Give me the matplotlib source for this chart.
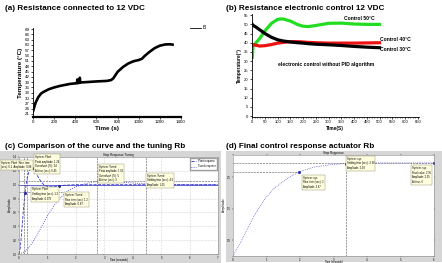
import numpy as np
import matplotlib
matplotlib.use('Agg')
import matplotlib.pyplot as plt

plt.rcParams['font.family'] = ['Liberation Sans', 'DejaVu Sans']

W, H = 442.0, 263.0

# (a) resistance at 12 VDC
a_t = [0, 10, 25, 50, 75, 100, 150, 200, 250, 300, 350, 400, 416, 419, 422, 440, 443, 446, 500,
       600, 700, 740, 760, 780, 800, 850, 900, 950, 1000, 1030, 1060, 1100, 1150, 1200, 1250, 1300, 1320]
a_T = [22.5, 24.5, 27.5, 30.5, 32.5, 33.5, 35.0, 36.0, 36.8, 37.4, 38.0, 38.3, 38.4, 40.5, 38.5, 38.6,
       41.5, 38.8, 39.0, 39.4, 39.7, 40.2, 41.2, 43.0, 44.8, 47.5, 49.5, 50.8, 51.5, 52.2, 54.0, 56.0,
       58.2, 59.6, 60.3, 60.4, 60.2]
a_yticks = list(range(21, 70, 3))
a_xticks = list(range(0, 1401, 200))

# (b) electronic control without PID
b_t = [0, 3, 15, 30, 50, 75, 100, 120, 150, 180, 200, 220, 250, 300, 350, 400, 450, 500]
b_green = [32.0, 38.5, 40.0, 42.5, 46.5, 50.5, 52.8, 53.0, 51.8, 49.8, 49.0, 48.8, 49.4, 50.6, 50.7,
           50.2, 50.0, 50.0]
b_black = [50.0, 49.5, 48.5, 47.0, 45.0, 43.0, 41.6, 41.0, 40.4, 40.0, 39.8, 39.5, 39.2, 38.9, 38.5,
           38.0, 37.6, 37.3]
b_red = [38.5, 39.0, 38.6, 38.2, 38.4, 39.0, 39.8, 40.2, 40.6, 40.6, 40.4, 40.2, 40.0, 39.8, 39.8,
         39.8, 39.9, 40.0]

# (c) step response: plant curve vs tuned
c_t1 = [0, 0.05, 0.1, 0.15, 0.2, 0.25, 0.3, 0.35, 0.4, 0.45, 0.5, 0.6, 0.7, 0.8, 0.9, 1.0, 1.1,
        1.2, 1.4, 1.6, 2.0, 3.0, 5.0, 7.0]
c_y1 = [0, 0.1, 0.35, 0.6, 0.85, 1.0, 1.12, 1.19, 1.23, 1.24, 1.23, 1.17, 1.09, 1.03, 0.99, 0.975,
        0.97, 0.972, 0.982, 0.993, 1.0, 1.0, 1.0, 1.0]
c_t2 = [0, 0.2, 0.4, 0.6, 0.8, 1.0, 1.2, 1.4, 1.6, 1.8, 2.0, 2.3, 2.6, 3.0, 3.4, 3.8, 4.2, 4.6,
        5.0, 6.0, 7.0]
c_y2 = [0, 0.03, 0.12, 0.25, 0.4, 0.55, 0.68, 0.79, 0.87, 0.93, 0.97, 1.01, 1.04, 1.05, 1.045,
        1.03, 1.02, 1.01, 1.005, 1.0, 1.0]

# (d) final actuator response
d_t = [0, 0.23, 0.43, 0.63, 0.93, 1.23, 1.63, 1.98, 2.43, 2.97, 3.38, 3.62, 4.22, 5.0, 6.0]
d_y = [0, 0.44, 0.86, 1.27, 1.78, 2.15, 2.46, 2.67, 2.82, 2.90, 2.93, 2.94, 2.95, 2.95, 2.95]


def box(x0, y0, x1, y1):
    # pixel box (top-left origin) -> figure fraction rect
    return [x0 / W, 1 - y1 / H, (x1 - x0) / W, (y1 - y0) / H]


fig = plt.figure(figsize=(4.42, 2.63), dpi=100)

tkw = dict(fontsize=5.9, fontweight='bold', ha='left', va='center')
fig.text(5 / W, 1 - 9 / H, '(a) Resistance connected to 12 VDC', **tkw)
fig.text(226 / W, 1 - 8 / H, '(b) Resistance electronic control 12 VDC', **tkw)
fig.text(5 / W, 1 - 146 / H, '(c) Comparison of the curve and the tuning Rb', **tkw)
fig.text(226 / W, 1 - 146 / H, '(d) Final control response actuator Rb', **tkw)

# ---- (a)
ax = fig.add_axes(box(33, 28, 181, 117))
ax.plot(a_t, a_T, color='black', lw=1.9, label='B')
ax.set_xlim(0, 1400)
ax.set_ylim(19.3, 69.6)
ax.set_xticks(a_xticks)
ax.set_yticks(a_yticks)
ax.tick_params(labelsize=3.2, length=1.5, width=0.5, pad=1)
for s in ['top', 'right']:
    ax.spines[s].set_visible(False)
ax.spines['left'].set_linewidth(0.6)
ax.spines['bottom'].set_linewidth(1.6)
ax.set_xlabel('Time (s)', fontsize=4.5, fontweight='bold', labelpad=1)
ax.set_ylabel('Temperature (°C)', fontsize=4.5, fontweight='bold', labelpad=1)
ax.legend(loc='upper left', bbox_to_anchor=(1.03, 1.08), frameon=False, fontsize=3.5,
          handlelength=2.2, handletextpad=0.5)
for l in ax.get_legend().get_lines():
    l.set_linewidth(0.6)

# ---- (b)
bx = fig.add_axes(box(251.5, 14.3, 419, 116.7))
bx.plot(b_t, b_green, color='#22dd22', lw=2.3)
bx.plot(b_t, b_red, color='#ee1111', lw=2.3)
bx.plot(b_t, b_black, color='black', lw=2.3)
bx.set_xlim(-3, 655)
bx.set_ylim(-0.3, 55.5)
bx.set_xticks(range(0, 651, 50))
bx.set_xticks(range(0, 651, 10), minor=True)
bx.set_yticks(range(0, 56, 5))
bx.tick_params(labelsize=3.0, length=1.5, width=0.5, pad=1)
bx.tick_params(which='minor', length=0.8, width=0.4)
for s in ['top', 'right']:
    bx.spines[s].set_visible(False)
for s in ['left', 'bottom']:
    bx.spines[s].set_linewidth(0.6)
bx.set_xlabel('Time(S)', fontsize=3.5, fontweight='bold', labelpad=1)
bx.set_ylabel('Temperature(°)', fontsize=3.5, fontweight='bold', labelpad=1)
lkw = dict(fontsize=3.6, fontweight='bold', va='center')
bx.text(359, 53.4, 'Control 50°C', **lkw)
bx.text(501, 42.0, 'Control 40°C', **lkw)
bx.text(501, 36.2, 'Control 30°C', **lkw)
bx.text(100, 28.4, 'electronic control without PID algorithm', **lkw)

# ---- (c)
gray = '#d6d6d6'
cb = fig.add_axes(box(0, 151, 221, 263))
cb.set_facecolor(gray)
cb.set_xticks([])
cb.set_yticks([])
for s in cb.spines.values():
    s.set_visible(False)
cx = fig.add_axes(box(19, 157, 218, 254))
cx.plot(c_t1, c_y1, color='#3333cc', lw=0.6, ls='--')
cx.plot(c_t2, c_y2, color='#3333cc', lw=0.6, ls=':')
cx.axhline(1.0, color='#3333cc', lw=0.5)
cx.set_xlim(0, 7)
cx.set_ylim(0, 1.4)
cx.set_xticks(range(0, 8))
cx.set_yticks(np.arange(0, 1.41, 0.2))
cx.grid(True, color='#b0b0b0', lw=0.4, ls=':')
cx.tick_params(labelsize=2.0, length=1, width=0.3, pad=0.5)
for s in cx.spines.values():
    s.set_linewidth(0.4)
    s.set_color('#888888')
cx.set_title('Step Response Tuning', fontsize=2.2, pad=0.8)
cx.set_xlabel('Time (seconds)', fontsize=1.9)
cx.xaxis.set_label_coords(0.5, -0.045)
cx.set_ylabel('Amplitude', fontsize=2.2, labelpad=0.5)
dkw = dict(color='#555555', lw=0.4, ls='--')
cx.axvline(0.19, **dkw)
cx.axvline(0.27, **dkw)
cx.axvline(2.74, **dkw)
cx.axvline(4.45, **dkw)
cx.axhline(1.24, xmax=0.07, **dkw)
cx.axhline(1.05, **dkw)
cx.axhline(0.9, xmax=0.24, **dkw)
tipkw = dict(fontsize=1.9, va='top', ha='left', linespacing=1.2, clip_on=False,
             bbox=dict(boxstyle='square,pad=0.35', fc='#ffffe0', ec='#888866', lw=0.3))
cx.text(0.56, 1.43, 'System: Plant\nPeak amplitude: 1.24\nOvershoot (%): 24\nAt time (sec): 0.45', **tipkw)
cx.text(-0.62, 1.345, 'System: Plant  Rise time\n(sec): 0.1  Amplitude: 0.88', **tipkw)
cx.text(0.46, 0.96, 'System: Plant\nSettling time (sec): 1.3\nAmplitude: 0.975', **tipkw)
cx.text(1.62, 0.88, 'System: Tuned\nRise time (sec): 1.2\nAmplitude: 0.87', **tipkw)
cx.text(2.82, 1.29, 'System: Tuned\nPeak amplitude: 1.05\nOvershoot (%): 5\nAt time (sec): 3', **tipkw)
cx.text(4.5, 1.16, 'System: Tuned\nSettling time (sec): 4.5\nAmplitude: 1.01', **tipkw)
cx.plot([0.45, 0.2, 1.4, 1.65, 3.0, 4.5], [1.24, 0.88, 0.975, 0.87, 1.05, 1.01], 's',
        color='#2222aa', ms=1.0)
cx.legend(['Plant response', 'Tuned response'], loc='upper right', fontsize=1.8,
          frameon=True, fancybox=False, edgecolor='#888888', handlelength=2)

# ---- (d)
db = fig.add_axes(box(226, 151, 442, 262))
db.set_facecolor(gray)
db.set_xticks([])
db.set_yticks([])
for s in db.spines.values():
    s.set_visible(False)
dx = fig.add_axes(box(233, 155, 434, 256))
dx.plot(d_t, d_y, color='#3333cc', lw=0.5, ls=':')
dx.set_xlim(0, 6)
dx.set_ylim(0, 3.2)
dx.set_xticks(range(0, 7))
dx.set_yticks([0.5, 1.5, 2.5])
dx.tick_params(labelsize=2.0, length=1, width=0.3, pad=0.5, right=True, top=True)
for s in dx.spines.values():
    s.set_linewidth(0.4)
    s.set_color('#888888')
dx.set_title('Step Response', fontsize=2.2, pad=0.8)
dx.set_xlabel('Time (seconds)', fontsize=1.9)
dx.xaxis.set_label_coords(0.5, -0.04)
dx.set_ylabel('Amplitude', fontsize=2.2, labelpad=0.5)
dx.axhline(2.95, **dkw)
dx.axhline(2.67, xmax=0.33, **dkw)
dx.axvline(3.38, **dkw)
dx.plot([1.98, 3.38, 6.0], [2.67, 2.93, 2.95], 's', color='#2222aa', ms=1.0)
dx.text(2.09, 2.55, 'System: sys\nRise time (sec): 2\nAmplitude: 2.67', **tipkw)
dx.text(3.4, 3.14, 'System: sys\nSettling time (sec): 3.38\nAmplitude: 2.93', **tipkw)
dx.text(5.34, 2.85, 'System: sys\nFinal value: 2.95\nAmplitude: 2.95\nAt time: 6', **tipkw)

fig.savefig('out.png', dpi=100)
